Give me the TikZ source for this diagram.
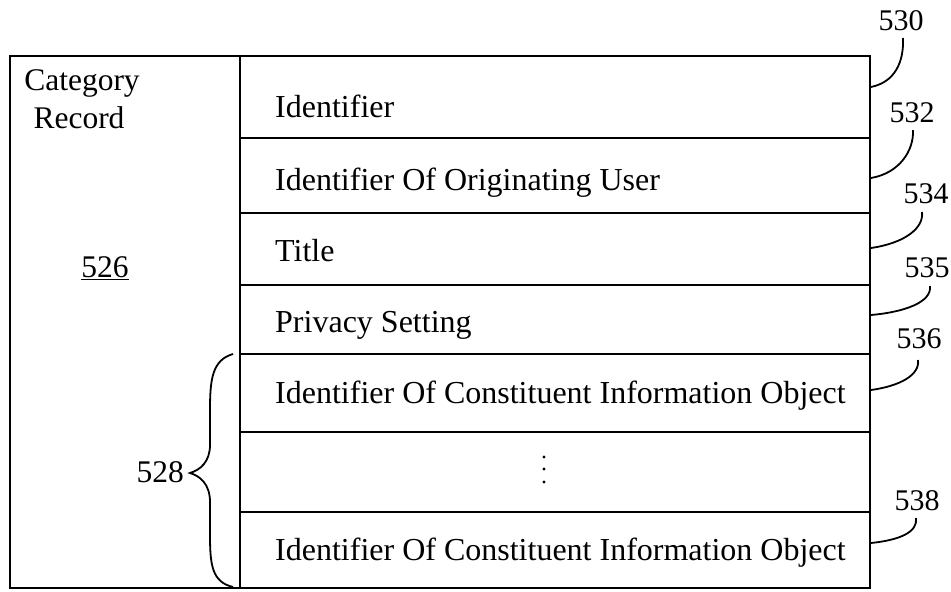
\documentclass[tikz,border=0pt]{standalone}
\usepackage{fontspec}
\setmainfont{Liberation Serif}
\begin{document}
\begin{tikzpicture}[x=1pt,y=-1pt,
  frame/.style={line width=2.2pt},
  leader/.style={line width=1.8pt},
  rowtext/.style={anchor=base west,inner sep=0pt,font=\fontsize{32}{32}\selectfont},
  reftext/.style={anchor=base,inner sep=0pt,font=\fontsize{30}{30}\selectfont},
  lefttext/.style={anchor=base,inner sep=0pt,font=\fontsize{31.5}{31.5}\selectfont},
  dot/.style={circle,fill=black,inner sep=0pt,minimum size=3.4pt}]
\useasboundingbox (0,0) rectangle (951,592);
% outer frame and column divider
\draw[frame] (10,56) rectangle (870,588);
\draw[frame] (240,56) -- (240,588);
% row separators
\foreach \yy in {138,213,285,354,432,512}
  \draw[frame] (240,\yy) -- (870,\yy);
% left column
\node[lefttext] (cat) at (82,90) {Category};
\node[lefttext] (rec) at (79,128) {Record};
\node[lefttext] (n526) at (105,277) {\underline{526}};
% row texts
\node[rowtext] (t1) at (275,117) {Identifier};
\node[rowtext] (t2) at (275,190) {Identifier Of Originating User};
\node[rowtext] (t3) at (275,261) {Title};
\node[rowtext] (t4) at (275,332) {Privacy Setting};
\node[rowtext] (t5) at (275,403) {Identifier Of Constituent Information Object};
\node[dot] (d1) at (544,457) {};
\node[dot] (d2) at (544,469) {};
\node[dot] (d3) at (544,482) {};
\node[rowtext] (t6) at (275,560) {Identifier Of Constituent Information Object};
% brace 528
\node[lefttext,anchor=base east] (n528) at (184,482) {528};
\coordinate (btop) at (233,354);
\coordinate (bbot) at (233,587);
\coordinate (btip) at (190,473);
\draw[leader] (btop) .. controls (212,360) and (210,380) .. (210,410)
  -- (210,445) .. controls (210,462) and (200,470) .. (btip)
  .. controls (200,476) and (210,484) .. (210,502)
  -- (210,535) .. controls (210,565) and (212,582) .. (bbot);
% reference labels
\node[reftext] (n530) at (901,30) {530};
\node[reftext] (n532) at (912,122) {532};
\node[reftext] (n534) at (926,203) {534};
\node[reftext] (n535) at (927,277) {535};
\node[reftext] (n536) at (919,348) {536};
\node[reftext] (n538) at (917,510) {538};
\coordinate (e530) at (871,87);
\coordinate (e532) at (871,178);
\coordinate (e534) at (871,248);
\coordinate (e535) at (871,315);
\coordinate (e536) at (871,390);
\coordinate (e538) at (871,543);
\draw[leader] (e530) .. controls (895,82) and (904,62) .. (903,38);
\draw[leader] (e532) .. controls (900,173) and (914,150) .. (913,130);
\draw[leader] (e534) .. controls (905,243) and (924,228) .. (922,212);
\draw[leader] (e535) .. controls (905,312) and (932,302) .. (930,286);
\draw[leader] (e536) .. controls (900,386) and (920,375) .. (918,360);
\draw[leader] (e538) .. controls (900,540) and (918,532) .. (916,518);
\end{tikzpicture}
\end{document}
